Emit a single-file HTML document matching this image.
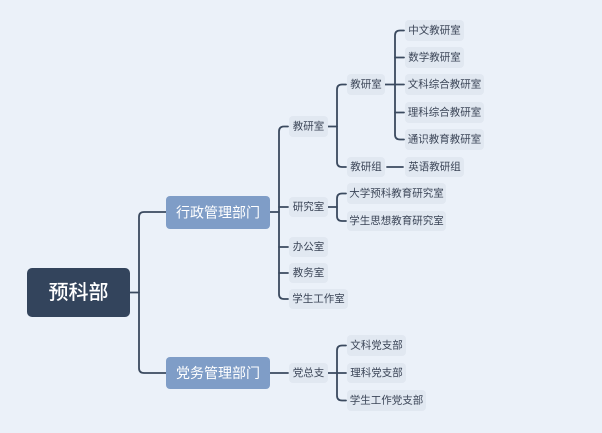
<!DOCTYPE html>
<html><head><meta charset="utf-8"><style>
html,body{margin:0;padding:0;background:#ebf1f9;}
svg{display:block;}
text{font-family:"Liberation Sans","Noto Sans CJK SC",sans-serif;}
</style></head><body>
<svg width="602" height="433" viewBox="0 0 602 433" xmlns="http://www.w3.org/2000/svg">
<rect width="602" height="433" fill="#ebf1f9"/>
<g fill="none" stroke="#3b4a5f" stroke-width="1.8" stroke-linecap="round">
<!-- root -->
<path d="M130,292.5 H139"/>
<path d="M166,212 H144 Q139,212 139,217 V368 Q139,373 144,373 H166"/>
<!-- L1 a -->
<path d="M270,212 H279"/>
<path d="M288,126.5 H284 Q279,126.5 279,131.5 V294 Q279,299 284,299 H288"/>
<path d="M279,207 H288 M279,247 H288 M279,273 H288"/>
<!-- L1 b -->
<path d="M270,373 H288"/>
<!-- 教研室 L2 -->
<path d="M328,126.5 H337"/>
<path d="M346,84.5 H342 Q337,84.5 337,89.5 V162 Q337,167 342,167 H346"/>
<!-- inner 教研室 -->
<path d="M385,84.5 H404"/>
<path d="M404,30.5 H400 Q395,30.5 395,35.5 V134.5 Q395,139.5 400,139.5 H404"/>
<path d="M395,57.5 H404 M395,112.5 H404"/>
<!-- 教研组 -->
<path d="M387,167 H403"/>
<!-- 研究室 -->
<path d="M328,207 H337"/>
<path d="M346,193.5 H342 Q337,193.5 337,198.5 V216 Q337,221 342,221 H346"/>
<!-- 党总支 -->
<path d="M328,373 H346"/>
<path d="M346,345.5 H342 Q337,345.5 337,350.5 V395.5 Q337,400.5 342,400.5 H346"/>
</g>

<!-- root -->
<rect x="27" y="268" width="103" height="49" rx="5" fill="#33445c"/>
<text x="78.5" y="293" font-size="20" font-weight="500" fill="#ffffff" text-anchor="middle" dominant-baseline="central">预科部</text>

<!-- L1 -->
<rect x="166" y="196" width="104" height="33" rx="4" fill="#7f9dc7"/>
<text x="218" y="212.5" font-size="14" fill="#ffffff" text-anchor="middle" dominant-baseline="central">行政管理部门</text>
<rect x="166" y="357" width="104" height="32" rx="4" fill="#7f9dc7"/>
<text x="218" y="373" font-size="14" fill="#ffffff" text-anchor="middle" dominant-baseline="central">党务管理部门</text>

<g font-size="10.5" fill="#3b4557" text-anchor="middle" dominant-baseline="central">
<!-- L2 -->
<rect x="289" y="116" width="39" height="21" rx="4" fill="#e1e8f1" stroke="none"/>
<text x="308.5" y="126.5">教研室</text>
<rect x="289" y="197" width="39" height="20" rx="4" fill="#e1e8f1"/>
<text x="308.5" y="207">研究室</text>
<rect x="289" y="237" width="39" height="20" rx="4" fill="#e1e8f1"/>
<text x="308.5" y="247">办公室</text>
<rect x="289" y="263" width="39" height="20" rx="4" fill="#e1e8f1"/>
<text x="308.5" y="273">教务室</text>
<rect x="289" y="289" width="59" height="20" rx="4" fill="#e1e8f1"/>
<text x="318.5" y="299">学生工作室</text>
<rect x="289" y="363" width="39" height="20" rx="4" fill="#e1e8f1"/>
<text x="308.5" y="373">党总支</text>

<!-- L3 -->
<rect x="347" y="74" width="38" height="21" rx="4" fill="#e1e8f1"/>
<text x="366" y="84.5">教研室</text>
<rect x="347" y="157" width="38" height="20" rx="4" fill="#e1e8f1"/>
<text x="366" y="167">教研组</text>
<rect x="347" y="183" width="99" height="21" rx="4" fill="#e1e8f1"/>
<text x="396.5" y="193.5">大学预科教育研究室</text>
<rect x="347" y="211" width="99" height="20" rx="4" fill="#e1e8f1"/>
<text x="396.5" y="221">学生思想教育研究室</text>
<rect x="347" y="335" width="59" height="21" rx="4" fill="#e1e8f1"/>
<text x="376.5" y="345.5">文科党支部</text>
<rect x="347" y="363" width="59" height="20" rx="4" fill="#e1e8f1"/>
<text x="376.5" y="373">理科党支部</text>
<rect x="347" y="390" width="79" height="21" rx="4" fill="#e1e8f1"/>
<text x="386.5" y="400.5">学生工作党支部</text>

<!-- L4 -->
<rect x="405" y="20" width="59" height="21" rx="4" fill="#e1e8f1"/>
<text x="434.5" y="30.5">中文教研室</text>
<rect x="405" y="47" width="59" height="21" rx="4" fill="#e1e8f1"/>
<text x="434.5" y="57.5">数学教研室</text>
<rect x="405" y="74" width="79" height="21" rx="4" fill="#e1e8f1"/>
<text x="444.5" y="84.5">文科综合教研室</text>
<rect x="405" y="102" width="79" height="21" rx="4" fill="#e1e8f1"/>
<text x="444.5" y="112.5">理科综合教研室</text>
<rect x="405" y="129" width="79" height="21" rx="4" fill="#e1e8f1"/>
<text x="444.5" y="139.5">通识教育教研室</text>
<rect x="405" y="157" width="59" height="20" rx="4" fill="#e1e8f1"/>
<text x="434.5" y="167">英语教研组</text>
</g>
</svg>
</body></html>
